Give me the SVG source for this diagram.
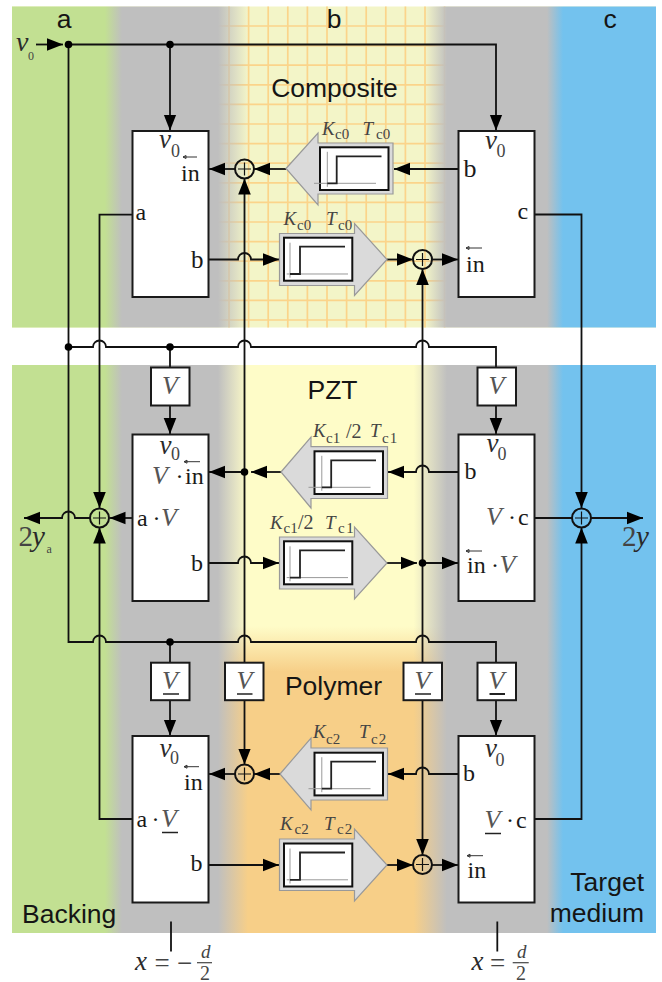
<svg xmlns="http://www.w3.org/2000/svg" width="662" height="982" viewBox="0 0 662 982">
<style>
.s{font-family:"Liberation Sans",Arial,sans-serif;font-size:26.500px;fill:#151515}
.m{font-family:"Liberation Serif","Times New Roman",serif;font-size:24px;fill:#1a1a1a}
.v{font-family:"Liberation Serif","Times New Roman",serif;font-style:italic;font-size:27px;fill:#2a2a2a}
.n{font-family:"Liberation Serif","Times New Roman",serif;font-size:27px;fill:#444}
.z{font-family:"Liberation Serif","Times New Roman",serif;font-size:18px;fill:#444}
.V{font-family:"Liberation Serif","Times New Roman",serif;font-style:italic;font-size:26px;fill:#555}
.k{font-family:"Liberation Serif","Times New Roman",serif;font-style:italic;font-size:19px;fill:#444}
.h{font-family:"Liberation Serif","Times New Roman",serif;font-size:20px;fill:#444}
.c{font-family:"Liberation Serif","Times New Roman",serif;font-size:15px;fill:#444}
.b{fill:#fff;stroke:#1a1a1a;stroke-width:2}
.w{fill:none;stroke:#111;stroke-width:1.8}
.a{fill:none;stroke:#111;stroke-width:1.8;marker-end:url(#arr)}
.d{fill:#000}
.amp{fill:#dadada;stroke:#999;stroke-width:1.2}
.sum{fill:none;stroke:#111;stroke-width:2}
.plus{stroke:#111;stroke-width:1.2;fill:none}
.u{stroke:#222;stroke-width:1.5;fill:none}
.t{stroke:#333;stroke-width:1;fill:none}
.q{stroke:#444;stroke-width:1.2;fill:none}
.g{stroke:#fbd48a;stroke-width:1.7;fill:none}
</style>
<defs>
<marker id="arr" markerUnits="userSpaceOnUse" markerWidth="18" markerHeight="14" refX="16" refY="7" orient="auto"><path d="M0 .7L16 7L0 13.3Z" fill="#000"/></marker>
<linearGradient id="ov1" gradientUnits="userSpaceOnUse" x1="0" y1="0" x2="662" y2="0">
<stop offset=".1586" stop-color="#c2e092"/><stop offset=".1843" stop-color="#bfbfbf"/>
<stop offset=".3293" stop-color="#bfbfbf"/><stop offset=".3746" stop-color="#bfbfbf" stop-opacity="0"/>
<stop offset=".642" stop-color="#bfbfbf" stop-opacity="0"/><stop offset=".6752" stop-color="#bfbfbf"/>
<stop offset=".8263" stop-color="#bfbfbf"/><stop offset=".8505" stop-color="#73c2ee"/>
</linearGradient>
<linearGradient id="ov2" gradientUnits="userSpaceOnUse" x1="0" y1="0" x2="662" y2="0">
<stop offset=".1586" stop-color="#c2e092"/><stop offset=".1843" stop-color="#bfbfbf"/>
<stop offset=".3293" stop-color="#bfbfbf"/><stop offset=".3746" stop-color="#bfbfbf" stop-opacity="0"/>
<stop offset=".625" stop-color="#bfbfbf" stop-opacity="0"/><stop offset=".6752" stop-color="#bfbfbf"/>
<stop offset=".8263" stop-color="#bfbfbf"/><stop offset=".8505" stop-color="#73c2ee"/>
</linearGradient>
<linearGradient id="mid" gradientUnits="userSpaceOnUse" x1="0" y1="365" x2="0" y2="933">
<stop offset=".46" stop-color="#fefcc8"/><stop offset=".54" stop-color="#f7cf88"/>
</linearGradient>
<g id="plotL">
<rect x="0" y="0" width="68.500" height="42.700" fill="#fff" stroke="#111" stroke-width="2"/>
<path d="M-6 36H56M7.300 4.500V39.500" stroke="#999" stroke-width="1" fill="none"/>
<path d="M7.300 36H16.700V9H61.500" stroke="#222" stroke-width="1.800" fill="none"/>
</g>
<g id="plotR">
<rect x="0" y="0" width="68.300" height="43" fill="#fff" stroke="#111" stroke-width="2"/>
<path d="M2.700 36.300H64M6 5V40" stroke="#999" stroke-width="1" fill="none"/>
<path d="M6 36.300H16V9H61" stroke="#222" stroke-width="1.800" fill="none"/>
</g>
</defs>

<g id="background">
<rect x="12" y="6.500" width="644" height="321" fill="#f3f5c8"/>
<path class="g" d="M229 6.500V327.500M248.600 6.500V327.500M268.200 6.500V327.500M287.800 6.500V327.500M307.400 6.500V327.500M327 6.500V327.500M346.600 6.500V327.500M366.200 6.500V327.500M385.800 6.500V327.500M405.400 6.500V327.500M425 6.500V327.500M444.600 6.500V327.500M215 26H450M215 45.600H450M215 65.200H450M215 84.800H450M215 104.400H450M215 124H450M215 143.600H450M215 163.200H450M215 182.800H450M215 202.400H450M215 222H450M215 241.600H450M215 261.200H450M215 280.800H450M215 300.400H450M215 320H450"/>
<rect x="12" y="6.500" width="644" height="321" fill="url(#ov1)"/>
<rect x="12" y="365" width="644" height="568" fill="url(#mid)"/>
<rect x="12" y="365" width="644" height="568" fill="url(#ov2)"/>
</g>

<g id="region-labels">
<text class="s" x="64" y="28" text-anchor="middle">a</text>
<text class="s" x="334" y="28" text-anchor="middle">b</text>
<text class="s" x="610" y="28" text-anchor="middle">c</text>
<text class="s" x="334.500" y="97" text-anchor="middle">Composite</text>
<text class="s" x="332.500" y="399" text-anchor="middle">PZT</text>
<text class="s" x="333.500" y="695" text-anchor="middle">Polymer</text>
<text class="s" x="22" y="922.500">Backing</text>
<text class="s" x="644" y="890.500" text-anchor="end">Target</text>
<text class="s" x="644" y="922" text-anchor="end">medium</text>
<text class="v" x="16" y="51" style="font-size:28px">v</text><text class="c" x="28" y="60" style="font-size:12px">0</text>
<text class="n" x="18.500" y="546" style="font-size:29px">2</text><text class="v" x="32" y="546" style="font-size:29px">y</text><text class="c" x="46.500" y="553" style="font-size:12px">a</text>
<text class="n" x="622" y="546" style="font-size:29px">2</text><text class="v" x="636" y="546" style="font-size:29px">y</text>
</g>

<g id="connectors">
<path class="a" d="M36 44.500H63"/>
<path class="a" d="M68.500 44.500H496V130.500"/>
<path class="a" d="M170 44.500V130.500"/>
<path class="w" d="M68.500 44.500V642H93a6.500 6.500 0 0 1 13 0H238a6.500 6.500 0 0 1 13 0H416a6.500 6.500 0 0 1 13 0H496V662.700"/>
<path class="w" d="M68.500 347H93a6.500 6.500 0 0 1 13 0H238a6.500 6.500 0 0 1 13 0H416a6.500 6.500 0 0 1 13 0H496V367.500"/>
<path class="w" d="M170 347V367.500"/>
<path class="w" d="M170 642V662.700"/>
<path class="a" d="M170 405.500V434"/>
<path class="a" d="M496 405.500V434"/>
<path class="a" d="M170 700V735.500"/>
<path class="a" d="M496 700V735.500"/>
<path class="a" d="M132 214.700H99.500V508"/>
<path class="a" d="M132 819H99.500V527.500"/>
<path class="a" d="M132 518H109.500"/>
<path class="a" d="M90 518H75a6.500 6.500 0 0 0 -13 0H24"/>
<path class="a" d="M534.500 214.500H581.500V508"/>
<path class="a" d="M534.500 819H581.500V527.500"/>
<path class="w" d="M534.500 518H572"/>
<path class="a" d="M591 518H643"/>
<path class="a" d="M244.500 662.700V178.500"/>
<path class="a" d="M244.500 700V764.500"/>
<path class="a" d="M422.500 662.700V269"/>
<path class="a" d="M422.500 700V855"/>
<path class="a" d="M286 169H254"/>
<path class="a" d="M235 169H209"/>
<path class="a" d="M208.500 259.500H238a6.500 6.500 0 0 1 13 0H279"/>
<path class="a" d="M387 259.500H413"/>
<path class="a" d="M432 259.500H458"/>
<path class="a" d="M458 169H394"/>
<path class="a" d="M281 472H251"/>
<path class="a" d="M244.500 472H209"/>
<path class="a" d="M208.500 563H238a6.500 6.500 0 0 1 13 0H279"/>
<path class="a" d="M387 563H417"/>
<path class="a" d="M422.500 563H458"/>
<path class="a" d="M458 472H429a6.500 6.500 0 0 0 -13 0H388"/>
<path class="a" d="M280 774H254"/>
<path class="a" d="M235 774H209"/>
<path class="a" d="M208.500 865H279"/>
<path class="a" d="M387 865H413"/>
<path class="a" d="M432 865H458"/>
<path class="a" d="M458 774H429a6.500 6.500 0 0 0 -13 0H388"/>
<circle class="d" cx="68.500" cy="44.500" r="3.800"/>
<circle class="d" cx="170" cy="44.500" r="3.800"/>
<circle class="d" cx="68.500" cy="347" r="3.800"/>
<circle class="d" cx="170" cy="347" r="3.800"/>
<circle class="d" cx="170" cy="642" r="3.800"/>
<circle class="d" cx="244.500" cy="472" r="3.800"/>
<circle class="d" cx="422.500" cy="563" r="3.800"/>
<path class="w" d="M171 921.500V951.500"/>
<path class="w" d="M497.300 921.500V951.500"/>
</g>

<g id="sum-1"><circle class="sum" cx="244.500" cy="169" r="9.500"/><path class="plus" d="M238 169H251M244.500 162.500V175.500"/></g>
<g id="sum-2"><circle class="sum" cx="422.500" cy="259.500" r="9.500"/><path class="plus" d="M416 259.500H429M422.500 253V266"/></g>
<g id="sum-3"><circle class="sum" cx="99.500" cy="518" r="9.500"/><path class="plus" d="M93 518H106M99.500 511.500V524.500"/></g>
<g id="sum-4"><circle class="sum" cx="581.500" cy="518" r="9.500"/><path class="plus" d="M575 518H588M581.500 511.500V524.500"/></g>
<g id="sum-5"><circle class="sum" cx="244.500" cy="774" r="9.500"/><path class="plus" d="M238 774H251M244.500 767.500V780.500"/></g>
<g id="sum-6"><circle class="sum" cx="422.500" cy="864.500" r="9.500"/><path class="plus" d="M416 864.500H429M422.500 858V871"/></g>

<g id="block-a0"><rect class="b" x="132.500" y="131" width="76" height="166"/>
<text class="v" x="159" y="148">v</text><text class="z" x="171" y="157">0</text>
<text class="m" x="181" y="180.500">in</text><path class="t" d="M183 157H197M183 157l3-1.500v3z"/>
<text class="m" x="135.500" y="219.500">a</text><text class="m" x="191" y="268" style="font-size:25px">b</text></g>

<g id="block-c0"><rect class="b" x="458.500" y="131" width="76" height="166"/>
<text class="v" x="485" y="149">v</text><text class="z" x="496.500" y="157">0</text>
<text class="m" x="463.500" y="176.500" style="font-size:26px">b</text><text class="m" x="517.500" y="219">c</text>
<text class="m" x="466" y="271.500">in</text><path class="t" d="M466 248H482M466 248l3-1.500v3z"/></g>

<g id="block-a1"><rect class="b" x="132.500" y="434.500" width="76" height="166.500"/>
<text class="v" x="159.500" y="454">v</text><text class="z" x="171" y="460">0</text>
<text class="V" x="152" y="484">V</text><text class="m" x="175.500" y="484">·</text><text class="m" x="185" y="484">in</text><path class="t" d="M184 461.700H200M184 461.700l3-1.500v3z"/>
<text class="m" x="137" y="525.500">a</text><text class="m" x="152.500" y="525.500">·</text><text class="V" x="161" y="525.500">V</text>
<text class="m" x="191" y="570.500">b</text></g>

<g id="block-c1"><rect class="b" x="458.500" y="434.500" width="76" height="166.500"/>
<text class="v" x="486.500" y="452">v</text><text class="z" x="497.500" y="460">0</text>
<text class="m" x="464.500" y="479">b</text>
<text class="V" x="486" y="525">V</text><text class="m" x="508" y="525">·</text><text class="m" x="518" y="525">c</text>
<text class="m" x="467" y="573">in</text><text class="m" x="491" y="573">·</text><text class="V" x="499.500" y="573">V</text><path class="t" d="M466 551H482M466 551l3-1.500v3z"/></g>

<g id="block-a2"><rect class="b" x="132.500" y="736" width="76" height="166.500"/>
<text class="v" x="159.500" y="756.500">v</text><text class="z" x="170" y="764">0</text>
<text class="m" x="184" y="790">in</text><path class="t" d="M184 766.700H199M184 766.700l3-1.500v3z"/>
<text class="m" x="136.500" y="826.500">a</text><text class="m" x="151.500" y="826.500">·</text><text class="V" x="161" y="826.500">V</text><path class="u" d="M162 832.500H178"/>
<text class="m" x="190.500" y="871">b</text></g>

<g id="block-c2"><rect class="b" x="458.500" y="736" width="76" height="166.500"/>
<text class="v" x="485" y="756.500">v</text><text class="z" x="495.500" y="765.500">0</text>
<text class="m" x="463" y="780.500">b</text>
<text class="V" x="484.500" y="828">V</text><path class="u" d="M485 833.500H501"/><text class="m" x="506" y="828">·</text><text class="m" x="516" y="828">c</text>
<text class="m" x="467.500" y="878">in</text><path class="t" d="M467 855.700H483M467 855.700l3-1.500v3z"/></g>

<g id="V-a1"><rect class="b" x="151" y="367.500" width="38.500" height="38"/><text class="V" x="170" y="393.500" text-anchor="middle">V</text></g>
<g id="V-c1"><rect class="b" x="477.500" y="367.500" width="38.500" height="38"/><text class="V" x="496.500" y="393.500" text-anchor="middle">V</text></g>
<g id="V-a2"><rect class="b" x="151" y="662.700" width="38.500" height="37.500"/><text class="V" x="170" y="689" text-anchor="middle">V</text><path class="u" d="M163 694H179"/></g>
<g id="V-b2"><rect class="b" x="225" y="662.700" width="38.500" height="37.500"/><text class="V" x="244.500" y="689" text-anchor="middle">V</text><path class="u" d="M237 694H252.500"/></g>
<g id="V-b3"><rect class="b" x="403.500" y="662.700" width="38.500" height="37.500"/><text class="V" x="422.500" y="689" text-anchor="middle">V</text><path class="u" d="M415 694H431"/></g>
<g id="V-c2"><rect class="b" x="477.500" y="662.700" width="38.500" height="37.500"/><text class="V" x="496.500" y="689" text-anchor="middle">V</text><path class="u" d="M489.500 694H505" style="stroke-width:2"/></g>

<g id="amp-L0"><polygon class="amp" points="286,168.500 318,133 318,143 393,143 393,194 318,194 318,205"/><use href="#plotL" x="320" y="147.300"/>
<text class="k" x="322" y="135">K</text><text class="c" x="335" y="139">c0</text><text class="k" x="362.500" y="135">T</text><text class="c" x="376" y="139">c0</text></g>
<g id="amp-R0"><polygon class="amp" points="279.500,233.500 354.500,233.500 354.500,223.500 387,259.500 354.500,295.500 354.500,285.500 279.500,285.500"/><use href="#plotR" x="284" y="237.700"/>
<text class="k" x="283.500" y="225">K</text><text class="c" x="297" y="229.500">c0</text><text class="k" x="326" y="225">T</text><text class="c" x="338" y="229.500">c0</text></g>
<g id="amp-L1"><polygon class="amp" points="281,472 311,437 311,446.700 387.500,446.700 387.500,498.500 311,498.500 311,508"/><use href="#plotL" x="314.500" y="451.300"/>
<text class="k" x="313" y="437">K</text><text class="c" x="326" y="442.500">c1</text><text class="h" x="346" y="438">/2</text><text class="k" x="370" y="437">T</text><text class="c" x="382" y="442.500" letter-spacing="1">c1</text></g>
<g id="amp-R1"><polygon class="amp" points="279.500,537 354.500,537 354.500,527 387,563 354.500,599 354.500,589 279.500,589"/><use href="#plotR" x="284" y="541.300"/>
<text class="k" x="270" y="529">K</text><text class="c" x="283.500" y="533">c1</text><text class="h" x="298" y="529">/2</text><text class="k" x="325" y="529">T</text><text class="c" x="338" y="533" letter-spacing="1.500">c1</text></g>
<g id="amp-L2"><polygon class="amp" points="280,774 311,738 311,748 387.500,748 387.500,800 311,800 311,810"/><use href="#plotL" x="314.500" y="752.700"/>
<text class="k" x="313" y="738">K</text><text class="c" x="326" y="744">c2</text><text class="k" x="359" y="738">T</text><text class="c" x="371" y="744" letter-spacing="1">c2</text></g>
<g id="amp-R2"><polygon class="amp" points="279.500,839 354.500,839 354.500,829 387,865 354.500,901 354.500,890.500 279.500,890.500"/><use href="#plotR" x="284" y="843.500"/>
<text class="k" x="280" y="830">K</text><text class="c" x="294.500" y="834">c2</text><text class="k" x="324" y="830">T</text><text class="c" x="337" y="834" letter-spacing="1">c2</text></g>

<g id="pos-left">
<text class="v" x="135" y="970">x</text><text class="n" x="154.500" y="972">=</text><text class="n" x="177" y="972">−</text>
<text class="k" x="201" y="958">d</text><path class="q" d="M197 962.700H212"/><text class="h" x="200" y="979.500">2</text>
</g>
<g id="pos-right">
<text class="v" x="471.500" y="970">x</text><text class="n" x="490" y="972">=</text>
<text class="k" x="517" y="958">d</text><path class="q" d="M512.700 962.700H528.700"/><text class="h" x="516" y="979.500">2</text>
</g>
</svg>
